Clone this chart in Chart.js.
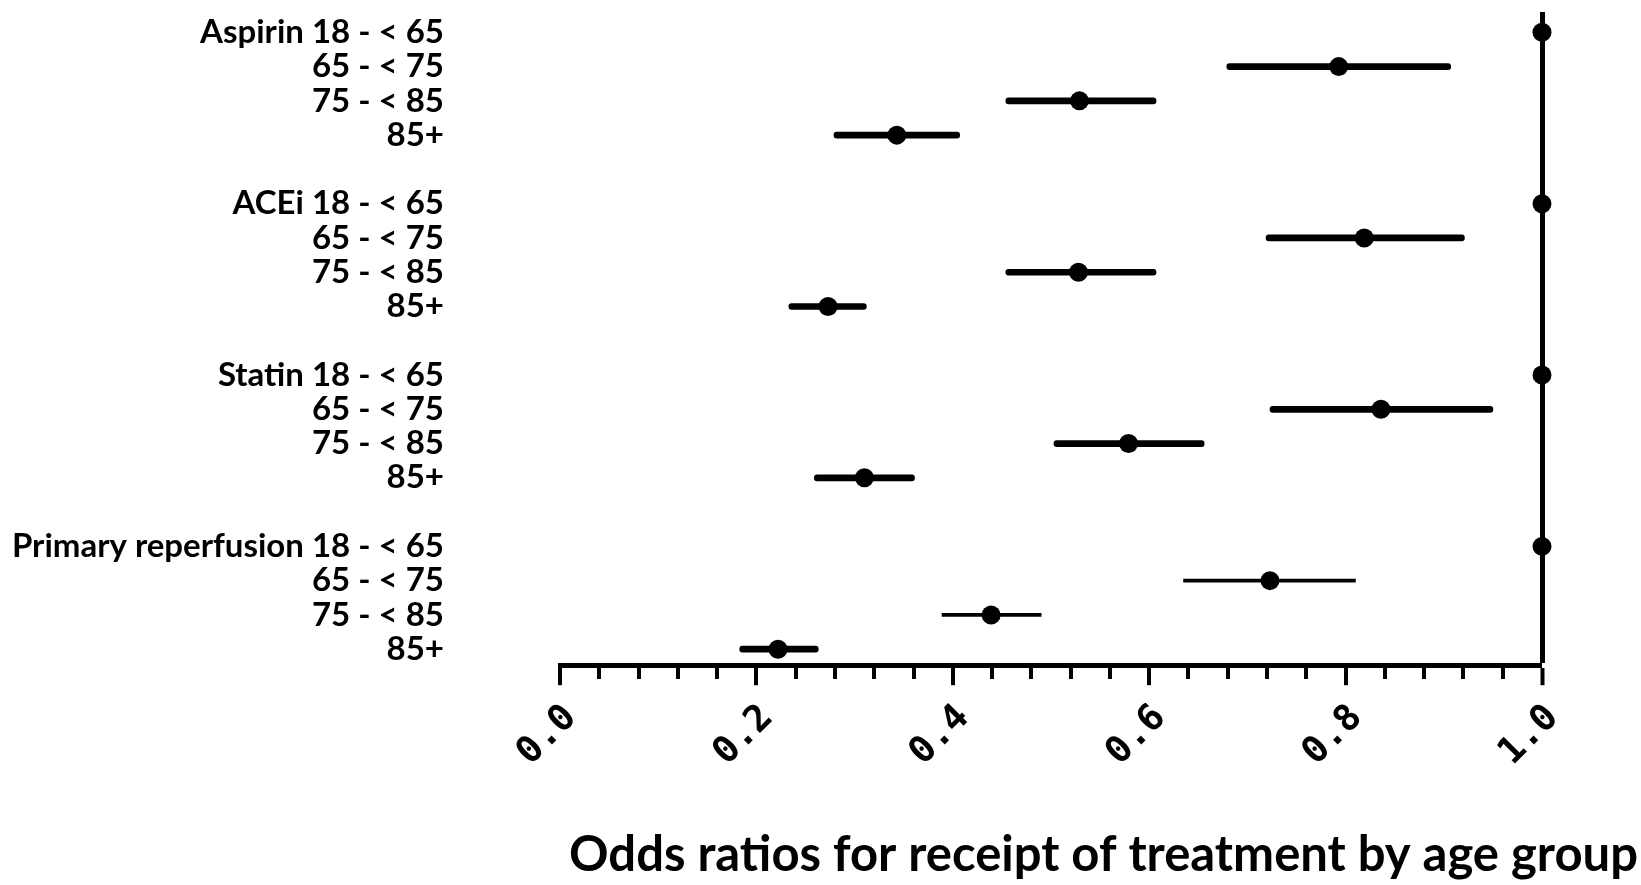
<!DOCTYPE html>
<html>
<head>
    <title>Odds ratios by age group</title>
    <style>
        body {
            margin: 0;
            padding: 0;
            background: #ffffff;
        }
        .chart-container {
            position: relative;
            width: 1641px;
            height: 885px;
        }
    </style>
    <script src="https://cdn.jsdelivr.net/npm/chart.js"></script>
</head>
<body>
    <div class="chart-container">
        <canvas id="orChart"></canvas>
    </div>

    <script>
        // Treatments and age bands (one row per band, blank row between treatments)
        const treatments = ['Aspirin', 'ACEi', 'Statin', 'Primary reperfusion'];
        const ageGroups = ['18 - < 65', '65 - < 75', '75 - < 85', '85+'];

        // Odds ratios, read per treatment (rows follow ageGroups)
        const oddsRatios = [
            [1.0, 0.793, 0.529, 0.343],
            [1.0, 0.819, 0.528, 0.273],
            [1.0, 0.836, 0.579, 0.310],
            [1.0, 0.723, 0.439, 0.222]
        ];
        // 95% CI bounds (reference group has none)
        const ciLower = [
            [null, 0.679, 0.454, 0.279],
            [null, 0.719, 0.454, 0.233],
            [null, 0.723, 0.503, 0.259],
            [null, 0.635, 0.389, 0.183]
        ];
        const ciUpper = [
            [null, 0.907, 0.607, 0.407],
            [null, 0.921, 0.607, 0.312],
            [null, 0.950, 0.656, 0.361],
            [null, 0.810, 0.490, 0.263]
        ];

        // x axis: labelled every 0.2, minor ticks every 0.04
        const xTickLabels = ['0.0', '0.2', '0.4', '0.6', '0.8', '1.0'];
        const minorPerMajor = 5;

        // CIs drawn with the thin pen in the original
        const thinCiRows = ['Primary reperfusion|65 - < 75', 'Primary reperfusion|75 - < 85'];

        // Build row labels and datasets
        const rowLabels = [];
        const points = [];
        const thickBars = [];
        const thinBars = [];
        treatments.forEach((drug, d) => {
            ageGroups.forEach((age, a) => {
                const row = rowLabels.length;
                rowLabels.push(a === 0 ? drug + ' ' + age : age);
                points.push({ x: oddsRatios[d][a], y: row });
                if (ciLower[d][a] !== null) {
                    const bar = { x: [ciLower[d][a], ciUpper[d][a]], y: row };
                    if (thinCiRows.includes(drug + '|' + age)) thinBars.push(bar);
                    else thickBars.push(bar);
                }
            });
            if (d < treatments.length - 1) rowLabels.push('');
        });

        const isOne = (c) => c.tick && Math.abs(c.tick.value - 1) < 1e-9;

        const ctx = document.getElementById('orChart').getContext('2d');
        const orChart = new Chart(ctx, {
            type: 'bar',
            data: {
                datasets: [
                    {
                        type: 'scatter',
                        data: points,
                        order: 0,
                        clip: false,
                        backgroundColor: '#000',
                        borderWidth: 0,
                        pointRadius: 9.5,
                        pointHoverRadius: 9.5
                    },
                    {
                        indexAxis: 'y',
                        data: thickBars,
                        order: 1,
                        grouped: false,
                        barThickness: 6,
                        backgroundColor: '#000',
                        borderSkipped: false,
                        borderRadius: 3
                    },
                    {
                        indexAxis: 'y',
                        data: thinBars,
                        order: 1,
                        grouped: false,
                        barThickness: 3,
                        backgroundColor: '#000',
                        borderSkipped: false
                    }
                ]
            },
            options: {
                responsive: true,
                maintainAspectRatio: false,
                animation: false,
                layout: {
                    padding: { top: 12, right: 3, left: 0, bottom: 0 }
                },
                plugins: {
                    legend: { display: false },
                    tooltip: { enabled: false },
                    title: {
                        display: true,
                        text: 'Odds ratios for receipt of treatment by age group',
                        position: 'bottom',
                        align: 'end',
                        color: '#000',
                        font: { family: 'Lato', size: 49, weight: 'bold' },
                        padding: { top: 0, bottom: 0 }
                    }
                },
                scales: {
                    x: {
                        type: 'linear',
                        min: 0,
                        max: 1,
                        offset: false,
                        afterBuildTicks: (scale) => {
                            const n = (xTickLabels.length - 1) * minorPerMajor;
                            scale.ticks = Array.from({ length: n + 1 }, (_, k) => ({ value: k / n }));
                        },
                        afterFit: (scale) => {
                            scale.height = 161;
                            scale.paddingLeft = 0;
                            scale.paddingRight = 0;
                        },
                        border: { display: true, color: '#000', width: 5 },
                        grid: {
                            offset: false,
                            drawOnChartArea: true,
                            color: (c) => (isOne(c) ? '#000' : 'rgba(0,0,0,0)'),
                            lineWidth: (c) => (isOne(c) ? 5 : 0),
                            tickColor: '#000',
                            tickWidth: 4,
                            tickLength: 20,
                            tickBorderDash: (c) => (c.index % minorPerMajor === 0 ? [] : [11, 100])
                        },
                        ticks: {
                            autoSkip: false,
                            minRotation: 45,
                            maxRotation: 45,
                            padding: 11,
                            labelOffset: 11,
                            color: '#000',
                            font: { family: 'DejaVu Sans Mono', size: 37, weight: 'bold' },
                            callback: (value, index) => (index % minorPerMajor === 0 ? xTickLabels[index / minorPerMajor] : '')
                        }
                    },
                    y: {
                        type: 'linear',
                        reverse: true,
                        min: -0.593,
                        max: 18.467,
                        offset: false,
                        afterBuildTicks: (scale) => {
                            scale.ticks = rowLabels.map((_, i) => ({ value: i }));
                        },
                        afterFit: (scale) => {
                            scale.width = 560;
                            scale.paddingTop = 0;
                            scale.paddingBottom = 0;
                        },
                        border: { display: false },
                        grid: { display: false, drawTicks: false, offset: false },
                        ticks: {
                            autoSkip: false,
                            padding: 116,
                            color: '#000',
                            font: { family: 'Lato', size: 33, weight: 'bold' },
                            callback: (value) => rowLabels[value]
                        }
                    },
                    y2: {
                        type: 'linear',
                        position: 'right',
                        offset: false,
                        afterFit: (scale) => { scale.width = 96; },
                        border: { display: false },
                        grid: { display: false, drawTicks: false },
                        ticks: { display: false }
                    }
                }
            }
        });
    </script>
</body>
</html>
